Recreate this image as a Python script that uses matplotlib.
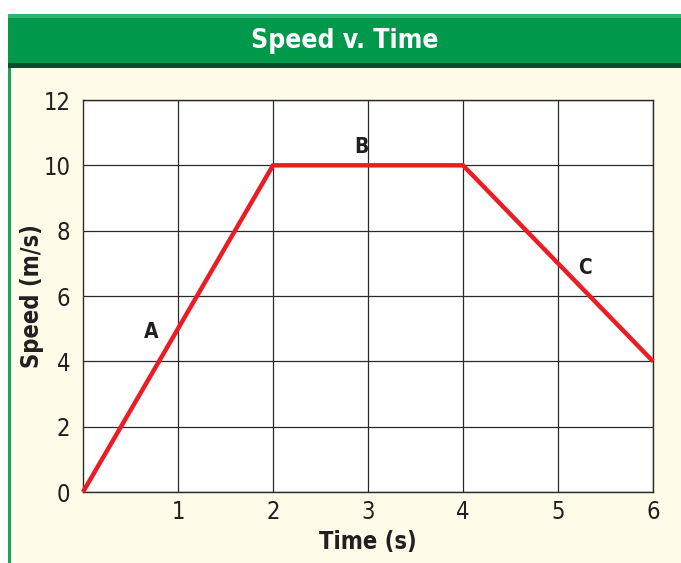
import matplotlib
matplotlib.use("Agg")
import matplotlib.pyplot as plt
from matplotlib.patches import Rectangle

time_s = [0, 2, 4, 6]
speed_ms = [0, 10, 10, 4]
x_ticks = [1, 2, 3, 4, 5, 6]
y_ticks = [0, 2, 4, 6, 8, 10, 12]
seg_labels = ["A", "B", "C"]
seg_label_pos = [(0.72, 4.9), (2.93, 10.55), (5.28, 6.85)]

plt.rcParams['font.family'] = ['DejaVu Sans']
plt.rcParams['font.stretch'] = 'condensed'

W, H = 681, 563
fig = plt.figure(figsize=(W / 100, H / 100), dpi=100)
fig.patch.set_facecolor("white")

def box(x0, y0, x1, y1, color):
    # pixel coords from top-left
    fig.patches.append(Rectangle((x0 / W, 1 - y1 / H), (x1 - x0) / W, (y1 - y0) / H,
                                 transform=fig.transFigure, facecolor=color,
                                 edgecolor="none", zorder=-5))

box(8, 14, W, H, "#fefbe8")
box(8, 14, 11, H, "#1aa35a")
box(8, 14, W, 66, "#00994c")
box(8, 14, W, 18, "#2db574")
box(8, 63, W, 68, "#004f2a")

fig.text(345 / W, 1 - 41 / H, "Speed v. Time", color="white", fontsize=19,
         fontweight="bold", ha="center", va="center", fontstretch="condensed")

ax = fig.add_axes([83 / W, 1 - 492 / H, 570 / W, 392 / H])
ax.set_zorder(5)
ax.set_facecolor("white")
ax.plot(time_s, speed_ms, color="#ec1c24", lw=3.2, solid_capstyle="butt",
        solid_joinstyle="miter", zorder=3, clip_on=False)
ax.set_xlim(0, 6)
ax.set_ylim(0, 12)
ax.set_xticks(x_ticks)
ax.set_yticks(y_ticks)
ax.grid(True, color="#2a2a2a", lw=0.9)
ax.set_axisbelow(True)
for s in ax.spines.values():
    s.set_color("#2a2a2a")
    s.set_linewidth(1.0)
ax.tick_params(length=0, labelsize=17, colors="#231f20", pad=9)
ax.tick_params(axis="x", pad=6)
for t in ax.get_xticklabels() + ax.get_yticklabels():
    t.set_fontstretch("condensed")

for lab, (x, y) in zip(seg_labels, seg_label_pos):
    ax.text(x, y, lab, fontsize=15, fontweight="bold", color="#231f20",
            ha="center", va="center", fontstretch="condensed")

ax.set_xlabel("Time (s)", fontsize=17, fontweight="bold", color="#231f20",
              labelpad=4, fontstretch="condensed")
ax.set_ylabel("Speed (m/s)", fontsize=17, fontweight="bold", color="#231f20",
              labelpad=0, fontstretch="condensed")

fig.savefig("out.png", dpi=100)
